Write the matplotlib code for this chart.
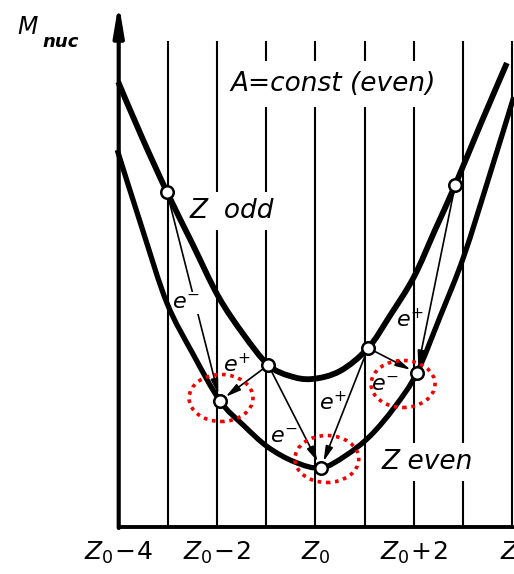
import matplotlib
matplotlib.use("Agg")
import matplotlib.pyplot as plt
import numpy as np
from matplotlib.patches import Ellipse, PathPatch
from matplotlib.path import Path

# ---- data (Z - Z0 on x, nuclear mass in arbitrary units on y) ----
odd_z = [-4.01, -3.53, -3.02, -2.51, -1.98, -1.47, -0.96, -0.52, -0.07,
         0.50, 1.07, 1.51, 2.00, 2.43, 2.84, 3.34, 3.89]
odd_m = [44.5, 39.0, 33.5, 28.4, 23.1, 19.3, 16.2, 15.1, 14.8,
         15.6, 17.9, 21.1, 25.0, 29.7, 34.2, 40.1, 46.4]

even_z = [-4.03, -3.52, -3.02, -2.49, -1.94, -1.47, -0.97, -0.42, 0.11,
          0.60, 1.11, 1.61, 2.06, 2.53, 3.01, 3.54, 4.03]
even_m = [37.7, 29.8, 22.4, 17.3, 12.6, 10.2, 8.0, 6.5, 5.9,
          7.1, 9.1, 12.0, 15.4, 21.0, 27.0, 35.2, 43.0]

odd_nodes_z = [-3.02, -0.96, 1.07, 2.84]
odd_nodes_m = [33.5, 16.2, 17.9, 34.2]
even_nodes_z = [-1.94, 0.11, 2.06]
even_nodes_m = [12.6, 5.9, 15.4]

# transitions: (from index in odd nodes, to index in even nodes, label)
trans_from = [0, 1, 1, 2, 2, 3]
trans_to = [0, 0, 1, 1, 2, 2]
trans_labels = [r"$e^{-}$", r"$e^{+}$", r"$e^{-}$", r"$e^{+}$", r"$e^{-}$", r"$e^{+}$"]
label_z = [-2.63, -1.60, -0.64, 0.36, 1.41, 1.92]
label_m = [22.4, 16.3, 9.0, 12.5, 14.2, 20.8]

grid_z = [-3, -2, -1, 0, 1, 2, 3, 4]
tick_z = [-4, -2, 0, 2]
tick_labels = [r"$Z_0\!-\!4$", r"$Z_0\!-\!2$", r"$Z_0$", r"$Z_0\!+\!2$"]

circle_z = [-1.92, 0.23, 1.78]
circle_m = [12.9, 6.8, 14.3]


def smooth_path(xs, ys):
    """Smooth curve through the given points (Catmull-Rom as cubic Beziers)."""
    pts = np.column_stack([xs, ys]).astype(float)
    n = len(pts)
    verts = [pts[0]]
    codes = [Path.MOVETO]
    for i in range(n - 1):
        p0 = pts[i - 1] if i > 0 else pts[i]
        p1 = pts[i]
        p2 = pts[i + 1]
        p3 = pts[i + 2] if i + 2 < n else pts[i + 1]
        verts += [p1 + (p2 - p0) / 6.0, p2 - (p3 - p1) / 6.0, p2]
        codes += [Path.CURVE4] * 3
    return Path(verts, codes)


fig = plt.figure(figsize=(5.14, 5.74), dpi=100)
ax = fig.add_axes([0, 0, 1, 1])
ax.set_xlim(-6.413, 4.035)
ax.set_ylim(-4.7, 52.7)
ax.axis("off")

# vertical grid lines
for gz in grid_z:
    ax.plot([gz, gz], [0, 48.5], color="black", lw=1.5, zorder=1)

# axes
ax.plot([-4, 4.2], [0, 0], color="black", lw=2.8, zorder=2, solid_capstyle="butt")
ax.annotate("", xy=(-4, 52.4), xytext=(-4, -0.1),
            arrowprops=dict(arrowstyle="-|>,head_length=1.8,head_width=0.3",
                            lw=3.0, color="black", shrinkA=0, shrinkB=0),
            zorder=2)

# texts with white background (break the vertical lines)
ax.text(-1.72, 44.3, "A=const (even)", fontsize=19, style="italic",
        va="center", ha="left",
        bbox=dict(facecolor="white", edgecolor="none", pad=7), zorder=3)
ax.text(-2.55, 31.6, "Z  odd", fontsize=19, style="italic", va="center", ha="left",
        bbox=dict(facecolor="white", edgecolor="none", pad=4), zorder=3)
ax.text(1.35, 6.5, "Z even", fontsize=19, style="italic", va="center", ha="left",
        bbox=dict(facecolor="white", edgecolor="none", pad=4), zorder=3)

# transitions (drawn below the curves)
for i, (a, b) in enumerate(zip(trans_from, trans_to)):
    ax.annotate("", xy=(even_nodes_z[b], even_nodes_m[b]),
                xytext=(odd_nodes_z[a], odd_nodes_m[a]),
                arrowprops=dict(arrowstyle="-|>,head_length=0.9,head_width=0.22",
                                lw=1.2, color="black", shrinkA=5, shrinkB=5),
                zorder=3.2)
    bb = dict(facecolor="white", edgecolor="none", pad=0.5) if i == 0 else None
    ax.text(label_z[i], label_m[i], trans_labels[i], fontsize=16, ha="center",
            va="center", bbox=bb, zorder=3.5)

# curves
ax.add_patch(PathPatch(smooth_path(odd_z, odd_m), fill=False, edgecolor="black",
                       lw=4.2, zorder=4, capstyle="butt"))
ax.add_patch(PathPatch(smooth_path(even_z, even_m), fill=False, edgecolor="black",
                       lw=3.8, zorder=4, capstyle="butt"))

# nodes
ax.plot(odd_nodes_z, odd_nodes_m, "o", ms=9, mfc="white", mec="black", mew=1.8, zorder=7)
ax.plot(even_nodes_z, even_nodes_m, "o", ms=9, mfc="white", mec="black", mew=1.8, zorder=7)

# red dotted highlight ellipses
for cz, cm in zip(circle_z, circle_m):
    ax.add_patch(Ellipse((cz, cm), 1.30, 4.7, fill=False, edgecolor="#f00000",
                         lw=2.6, linestyle=(0, (1, 1.3)), zorder=8))

# tick labels
for tz, tl in zip(tick_z, tick_labels):
    ax.text(tz, -2.6, tl, fontsize=18, ha="center", va="center")
ax.text(3.75, -2.6, r"$Z_0\!+\!4$", fontsize=18, ha="left", va="center")

# y-axis label
ax.text(-6.05, 50.0, "M", fontsize=17, style="italic", ha="left", va="center")
ax.text(-5.56, 48.5, "nuc", fontsize=13, style="italic", weight="bold", ha="left", va="center")

fig.savefig("out.png", dpi=100)
